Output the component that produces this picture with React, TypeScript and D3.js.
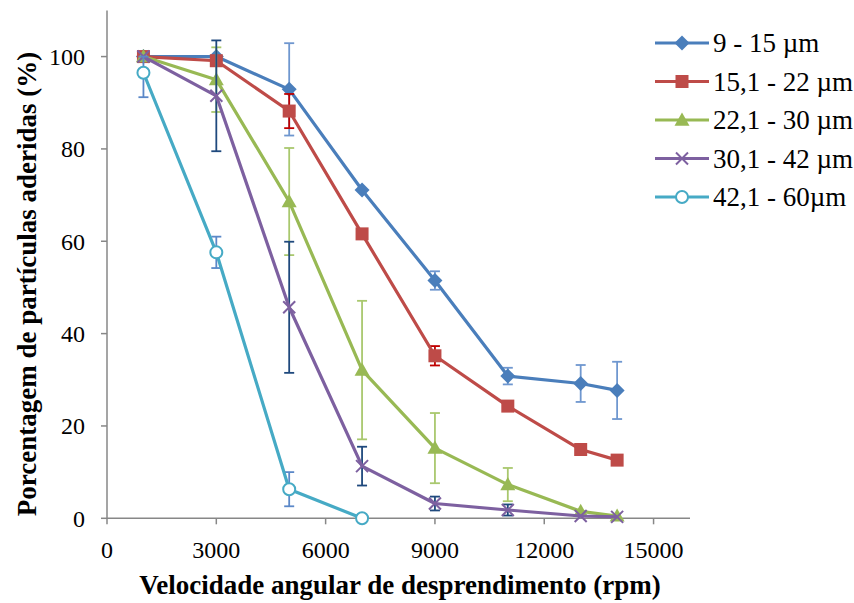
import React from "react";
import * as d3 from "d3";

const xValues = [1000, 3000, 5000, 7000, 9000, 11000, 13000, 14000];
const xValuesLast = [1000, 3000, 5000, 7000];

const s1 = [100, 100, 92.9, 71.1, 51.5, 30.8, 29.2, 27.7];
const e1 = [0, 0, 10, 0, 2, 1.8, 4, 6.2];
const s2 = [100, 99.1, 88.2, 61.6, 35.2, 24.3, 14.9, 12.6];
const e2 = [0, 0, 3.7, 0, 2.1, 0, 0, 0];
const s3 = [100, 95, 68.6, 32.1, 15.2, 7.3, 1.5, 0.5];
const e3 = [0, 7, 11.6, 15, 7.6, 3.6, 0, 0];
const s4 = [100, 91.5, 45.7, 11.3, 3.2, 1.8, 0.5, 0.3];
const e4 = [0, 12, 14.2, 4.2, 1.5, 1.2, 0, 0];
const s5 = [96.5, 57.6, 6.3, 0];
const e5 = [5.3, 3.4, 3.7, 0];
const e5Up = [3.5, 3.4, 3.7, 0];

const seriesNames = ["9 - 15 µm", "15,1 - 22 µm", "22,1 - 30 µm", "30,1 - 42 µm", "42,1 - 60µm"];
const lineColors = ["#4A7EBB", "#BE4B48", "#98B954", "#7D60A0", "#46AAC5"];
const errColors = ["#6F97CF", "#C00000", "#A9C86E", "#1F497D", "#5B88C8"];
const markers = ["diamond", "square", "triangle", "x", "circle"];

const xTicks = [0, 3000, 6000, 9000, 12000, 15000];
const yTicks = [0, 20, 40, 60, 80, 100];

const serif = { fontFamily: "Liberation Serif" };

function Marker({ type, x, y, color }: { type: string; x: number; y: number; color: string }) {
  if (type === "diamond") {
    const r = 7.5;
    return <path d={`M${x},${y - r}L${x + r},${y}L${x},${y + r}L${x - r},${y}Z`} fill={color} />;
  }
  if (type === "square") {
    const r = 6.5;
    return <rect x={x - r} y={y - r} width={2 * r} height={2 * r} fill={color} />;
  }
  if (type === "triangle") {
    const r = 7.5;
    return <path d={`M${x},${y - r}L${x + r},${y + r * 0.75}L${x - r},${y + r * 0.75}Z`} fill={color} />;
  }
  if (type === "x") {
    const r = 6;
    return (
      <path d={`M${x - r},${y - r}L${x + r},${y + r}M${x + r},${y - r}L${x - r},${y + r}`} stroke={color} strokeWidth={2} />
    );
  }
  return <circle cx={x} cy={y} r={6} fill="white" stroke={color} strokeWidth={2} />;
}

export default function App() {
  const width = 854;
  const height = 603;
  const x = d3.scaleLinear().domain([0, 16000]).range([107, 690]);
  const y = d3.scaleLinear().domain([0, 110]).range([518.3, 10.4]);

  const series = [
    { xs: xValues, ys: s1, up: e1, down: e1 },
    { xs: xValues, ys: s2, up: e2, down: e2 },
    { xs: xValues, ys: s3, up: e3, down: e3 },
    { xs: xValues, ys: s4, up: e4, down: e4 },
    { xs: xValuesLast, ys: s5, up: e5Up, down: e5 },
  ];

  const line = d3
    .line<[number, number]>()
    .x((d) => x(d[0]))
    .y((d) => y(d[1]));

  const axisColor = "#878787";
  const cap = 5;

  return (
    <svg width={width} height={height} style={{ position: "absolute", left: 0, top: 0 }}>
      <rect width={width} height={height} fill="white" />
      <line x1={x(0)} x2={x(0)} y1={y(110)} y2={y(0)} stroke={axisColor} strokeWidth={1.5} />
      <line x1={x(0)} x2={x(16000)} y1={y(0)} y2={y(0)} stroke={axisColor} strokeWidth={1.5} />
      {yTicks.map((t) => (
        <g key={"y" + t}>
          <line x1={x(0) - 6} x2={x(0)} y1={y(t)} y2={y(t)} stroke={axisColor} strokeWidth={1.5} />
          <text x={85} y={y(t)} dy="0.35em" textAnchor="end" fontSize={24} fill="#000" style={serif}>
            {t}
          </text>
        </g>
      ))}
      {xTicks.map((t) => (
        <g key={"x" + t}>
          <line x1={x(t)} x2={x(t)} y1={y(0)} y2={y(0) + 6} stroke={axisColor} strokeWidth={1.5} />
          <text x={x(t)} y={550} dy="0.35em" textAnchor="middle" fontSize={24} fill="#000" style={serif}>
            {t}
          </text>
        </g>
      ))}
      <text x={400} y={585} dy="0.35em" textAnchor="middle" fontSize={27} fontWeight="bold" style={serif}>
        Velocidade angular de desprendimento (rpm)
      </text>
      <text
        transform={`translate(27,${284}) rotate(-90)`}
        dy="0.35em"
        textAnchor="middle"
        fontSize={27}
        fontWeight="bold"
        style={serif}
      >
        Porcentagem de partículas aderidas (%)
      </text>

      {series.map((s, i) => {
        const pts: [number, number][] = s.xs.map((xv, j) => [xv, s.ys[j]]);
        return (
          <g key={"s" + i}>
            {s.xs.map((xv, j) =>
              s.up[j] > 0 || s.down[j] > 0 ? (
                <g key={j} stroke={errColors[i]} strokeWidth={1.8}>
                  <line x1={x(xv)} x2={x(xv)} y1={y(s.ys[j] + s.up[j])} y2={y(s.ys[j] - s.down[j])} />
                  <line x1={x(xv) - cap} x2={x(xv) + cap} y1={y(s.ys[j] + s.up[j])} y2={y(s.ys[j] + s.up[j])} />
                  <line x1={x(xv) - cap} x2={x(xv) + cap} y1={y(s.ys[j] - s.down[j])} y2={y(s.ys[j] - s.down[j])} />
                </g>
              ) : null
            )}
            <path d={line(pts) || ""} fill="none" stroke={lineColors[i]} strokeWidth={3.2} strokeLinejoin="round" />
            {pts.map((p, j) => (
              <Marker key={j} type={markers[i]} x={x(p[0])} y={y(p[1])} color={lineColors[i]} />
            ))}
          </g>
        );
      })}

      {seriesNames.map((n, i) => {
        const ly = 43 + i * 38.5;
        return (
          <g key={"l" + i}>
            <line x1={655} x2={709} y1={ly} y2={ly} stroke={lineColors[i]} strokeWidth={3.2} />
            <Marker type={markers[i]} x={682} y={ly} color={lineColors[i]} />
            <text x={713} y={ly} dy="0.35em" fontSize={27} fill="#000" style={serif}>
              {n}
            </text>
          </g>
        );
      })}
    </svg>
  );
}
